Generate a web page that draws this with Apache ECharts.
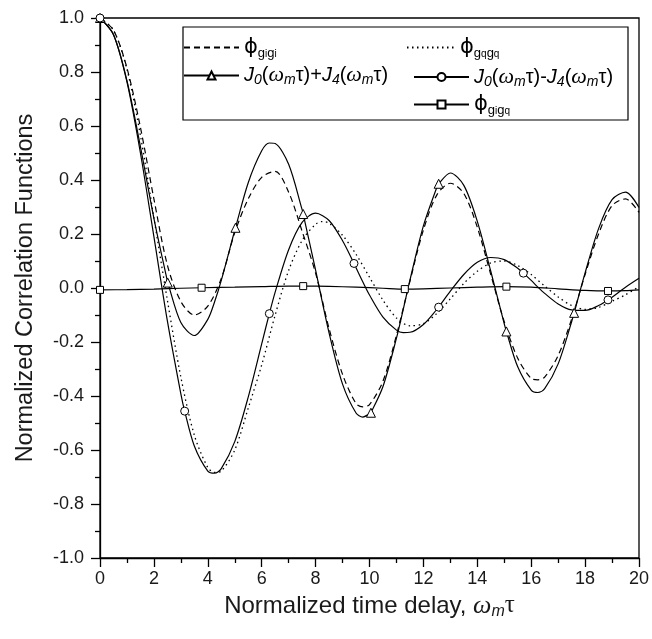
<!DOCTYPE html>
<html><head><meta charset="utf-8">
<script src="https://cdn.jsdelivr.net/npm/echarts@6/dist/echarts.min.js"></script>
<style>html,body{margin:0;padding:0;background:#fff}#c{width:652px;height:639px}</style>
</head><body><div id="c"></div>
<script>
// sample positions (omega_m * tau)
const xGrid = [0,0.5,1,1.5,2,2.5,3,3.5,4,4.5,5,5.5,6,6.5,7,7.5,8,8.5,9,9.5,10,10.5,11,11.5,12,12.5,13,13.5,14,14.5,15,15.5,16,16.5,17,17.5,18,18.5,19,19.5,20];
// J0 + J4 (solid, triangles)
const sumJ = [1.000,0.939,0.768,0.524,0.258,0.025,-0.128,-0.176,-0.116,0.028,0.214,0.390,0.508,0.535,0.458,0.290,0.066,-0.166,-0.356,-0.463,-0.466,-0.365,-0.186,0.029,0.230,0.373,0.426,0.380,0.247,0.062,-0.133,-0.292,-0.378,-0.373,-0.281,-0.125,0.056,0.220,0.327,0.355,0.298];
// J0 - J4 (solid, circles)
const diffJ = [1.000,0.938,0.763,0.500,0.190,-0.122,-0.392,-0.585,-0.678,-0.669,-0.569,-0.404,-0.207,-0.015,0.142,0.243,0.277,0.250,0.175,0.075,-0.026,-0.108,-0.156,-0.164,-0.135,-0.079,-0.012,0.050,0.095,0.113,0.105,0.073,0.028,-0.020,-0.059,-0.081,-0.083,-0.065,-0.034,0.003,0.036];
// extra samples near the extrema of the two solid curves
const extraX = [4.25,6.2832,9.75,11.25,16.25];
const extraSum = [-0.052,0.537,-0.478,-0.080,-0.387];
const extraDiff = [-0.686,-0.095,0.023,-0.165,0.003];
// phi_gigi (dashed)
const phiII = [1.000,0.955,0.815,0.595,0.330,0.085,-0.050,-0.100,-0.067,0.035,0.205,0.330,0.410,0.432,0.355,0.210,0.055,-0.150,-0.320,-0.428,-0.432,-0.345,-0.175,0.025,0.215,0.345,0.388,0.350,0.225,0.050,-0.125,-0.260,-0.335,-0.330,-0.250,-0.115,0.050,0.200,0.305,0.330,0.280];
const phiIIx2 = [9.75,16.25];
const phiIIy2 = [-0.440,-0.340];
// phi_gqgq (dotted)
const phiQQ = [1.000,0.955,0.810,0.565,0.260,-0.045,-0.330,-0.545,-0.665,-0.678,-0.600,-0.445,-0.285,-0.100,0.065,0.176,0.236,0.240,0.195,0.125,0.040,-0.045,-0.111,-0.140,-0.132,-0.094,-0.040,0.017,0.062,0.093,0.100,0.083,0.050,0.007,-0.033,-0.065,-0.079,-0.072,-0.049,-0.025,0.005];
const phiQQx2 = [4.25,8.25];
const phiQQy2 = [-0.683,0.246];
// phi_gigq (solid, squares)
const iqX = [0,1,2,3,5,6,7,8.5,9.5,10.5,12,13,14,16,17,18,19.5,20];
const iqY = [-0.007,-0.006,-0.004,-0.001,0.003,0.005,0.007,0.006,0.003,-0.001,-0.003,0.000,0.003,0.003,-0.003,-0.009,-0.010,-0.007];
// marker positions
const triX = [0,2.5133,5.0265,7.5398,10.0531,12.5664,15.0796,17.5929];
const triY = [1.000,0.020,0.223,0.274,-0.462,0.386,-0.161,-0.092];
const cirX = [0,3.1416,6.2832,9.4248,12.5664,15.7080,18.8496];
const cirY = [1.000,-0.456,-0.095,0.091,-0.071,0.055,-0.044];
const sqX = [0,3.7699,7.5398,11.3097,15.0796,18.8496];
const sqY = [-0.007,0.001,0.007,-0.004,0.005,-0.011];
// tick labels
const xTicks = [0,2,4,6,8,10,12,14,16,18,20];
const yTicks = ['-1.0','-0.8','-0.6','-0.4','-0.2','0.0','0.2','0.4','0.6','0.8','1.0'];

function buildData(xs, ys, mx, my, ex, ey) {
  const pts = xs.map((x, i) => ({x: x, y: ys[i], m: false}));
  (ex || []).forEach((x, i) => pts.push({x: x, y: ey[i], m: false}));
  (mx || []).forEach((x, i) => {
    const j = pts.findIndex(p => Math.abs(p.x - x) < 1e-3);
    if (j >= 0) { pts[j].y = my[i]; pts[j].m = true; }
    else pts.push({x: x, y: my[i], m: true});
  });
  pts.sort((a, b) => a.x - b.x);
  return pts.map(p => p.m ? {value: [p.x, p.y]} : {value: [p.x, p.y], symbol: 'none'});
}

const F = 'Liberation Sans, Arial, sans-serif';
const legRich = {
  n: {fontFamily: F, fontSize: 20, lineHeight: 24, color: '#000'},
  i: {fontFamily: F, fontSize: 20, fontStyle: 'italic', lineHeight: 24, color: '#000'},
  p: {fontFamily: 'DejaVu Sans', fontSize: 21, lineHeight: 24, color: '#000'},
  s: {fontFamily: F, fontSize: 13, lineHeight: 8, verticalAlign: 'bottom', color: '#000'},
  ss: {fontFamily: F, fontSize: 10, lineHeight: 2, verticalAlign: 'bottom', color: '#000'},
  si: {fontFamily: F, fontSize: 14, fontStyle: 'italic', lineHeight: 12, verticalAlign: 'bottom', color: '#000'},
  w: {fontFamily: 'Liberation Serif', fontSize: 22, fontStyle: 'italic', lineHeight: 24, color: '#000'},
  wm: {fontFamily: F, fontSize: 14, fontStyle: 'italic', lineHeight: 10, verticalAlign: 'bottom', color: '#000'},
  t: {fontFamily: F, fontSize: 20, lineHeight: 24, color: '#000'}
};
const labels = {
  gigi: '{p|ϕ}{s|g}{ss|i}{s|g}{ss|i}',
  gqgq: '{p|ϕ}{s|g}{ss|q}{s|g}{ss|q}',
  gigq: '{p|ϕ}{s|g}{ss|i}{s|g}{ss|q}',
  sum: '{i|J}{si|0}{n|(}{w|ω}{wm|m}{t|τ}{n|)+}{i|J}{si|4}{n|(}{w|ω}{wm|m}{t|τ}{n|)}',
  diff: '{i|J}{si|0}{n|(}{w|ω}{wm|m}{t|τ}{n|)-}{i|J}{si|4}{n|(}{w|ω}{wm|m}{t|τ}{n|)}'
};
const noSym = {opacity: 0, color: 'rgba(0,0,0,0)', borderColor: 'rgba(0,0,0,0)', borderWidth: 0};
function legendOf(names, left, top, width) {
  return {
    data: names.map(n => (n === 'gigi' || n === 'gqgq') ? {name: n, itemStyle: noSym} : {name: n}),
    left: left, top: top, orient: 'vertical', padding: 0,
    itemWidth: width, itemHeight: 10, itemGap: 5, selectedMode: false,
    formatter: n => labels[n], textStyle: {rich: legRich}
  };
}
const blk = '#000';
const axisCommon = {
  axisLine: {show: true, onZero: false, lineStyle: {color: blk, width: 1.3}},
  axisTick: {show: true, length: 9, lineStyle: {color: blk, width: 1.3}},
  minorTick: {show: true, splitNumber: 2, length: 5, lineStyle: {color: blk, width: 1.3}},
  splitLine: {show: false}
};
const chart = echarts.init(document.getElementById('c'));
chart.setOption({
  animation: false,
  backgroundColor: '#fff',
  grid: {left: 100, right: 13, top: 18, bottom: 81, show: true, borderColor: blk, borderWidth: 1.3, containLabel: false, outerBoundsMode: 'none'},
  legend: [
    legendOf(['gigi', 'sum'], 183, 37, 55),
    legendOf(['gqgq'], 406, 37, 48),
    legendOf(['diff', 'gigq'], 413, 66, 55)
  ],
  graphic: [{type: 'rect', shape: {x: 183, y: 27, width: 445, height: 93}, style: {fill: 'none', stroke: blk, lineWidth: 1.2}, silent: true}],
  xAxis: Object.assign({
    type: 'value', min: xTicks[0], max: xTicks[xTicks.length - 1], interval: xTicks[1] - xTicks[0],
    axisLabel: {margin: 12, fontSize: 18, fontFamily: F, color: '#1a1a1a'},
    name: '{n|Normalized time delay, }{w|ω}{m|m}{t|τ}', nameLocation: 'middle', nameGap: 25,
    nameTextStyle: {rich: {
      n: {fontFamily: F, fontSize: 24, lineHeight: 28, color: '#1a1a1a'},
      w: {fontFamily: 'Liberation Serif', fontStyle: 'italic', fontSize: 26, lineHeight: 28, color: '#1a1a1a'},
      m: {fontFamily: F, fontStyle: 'italic', fontSize: 16, lineHeight: 12, verticalAlign: 'bottom', color: '#1a1a1a'},
      t: {fontFamily: 'Liberation Serif', fontSize: 25, lineHeight: 28, color: '#1a1a1a'}
    }}
  }, axisCommon),
  yAxis: Object.assign({
    type: 'value', min: Number(yTicks[0]), max: Number(yTicks[yTicks.length - 1]), interval: 0.2,
    axisLabel: {margin: 16, fontSize: 18, fontFamily: F, color: '#1a1a1a', formatter: v => {
      const k = yTicks.find(t => Math.abs(Number(t) - v) < 1e-6); return k !== undefined ? k : v.toFixed(1);
    }},
    name: 'Normalized Correlation Functions', nameLocation: 'middle', nameGap: 62,
    nameTextStyle: {fontFamily: F, fontSize: 23.5, color: '#1a1a1a'}
  }, axisCommon),
  series: [
    {name: 'gigi', type: 'line', data: buildData(xGrid, phiII, null, null, phiIIx2, phiIIy2), symbol: 'none', smooth: 0.3,
      lineStyle: {color: blk, width: 1.2, type: [6, 4]}, itemStyle: {color: blk}},
    {name: 'gqgq', type: 'line', data: buildData(xGrid, phiQQ, null, null, phiQQx2, phiQQy2), symbol: 'none', smooth: 0.3,
      lineStyle: {color: blk, width: 1.3, type: [1.5, 3.5]}, itemStyle: {color: blk}},
    {name: 'sum', type: 'line', data: buildData(xGrid, sumJ, triX, triY, extraX, extraSum), symbol: 'triangle', symbolSize: 9, showAllSymbol: true, smooth: 0.3,
      lineStyle: {color: blk, width: 1.2}, itemStyle: {color: '#fff', borderColor: blk, borderWidth: 1}},
    {name: 'diff', type: 'line', data: buildData(xGrid, diffJ, cirX, cirY, extraX, extraDiff), symbol: 'circle', symbolSize: 8, showAllSymbol: true, smooth: 0.3,
      lineStyle: {color: blk, width: 1.2}, itemStyle: {color: '#fff', borderColor: blk, borderWidth: 1}},
    {name: 'gigq', type: 'line', data: buildData(iqX, iqY, sqX, sqY), symbol: 'rect', symbolSize: 7, showAllSymbol: true, smooth: 0.3,
      lineStyle: {color: blk, width: 1.2}, itemStyle: {color: '#fff', borderColor: blk, borderWidth: 1}}
  ]
});
</script></body></html>
